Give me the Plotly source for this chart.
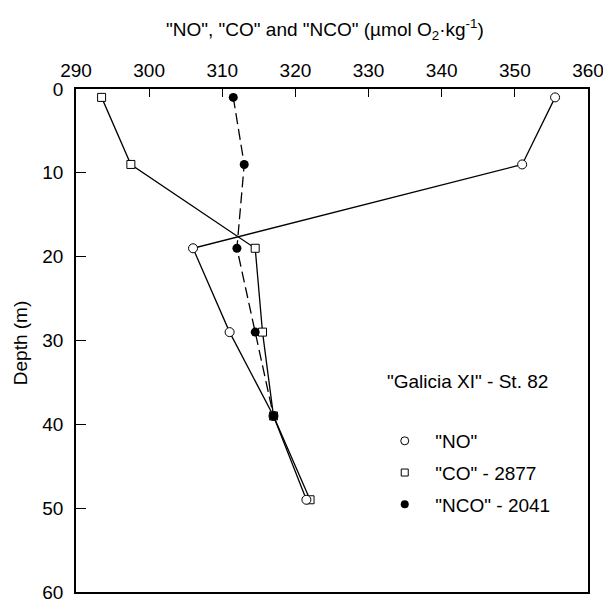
import plotly.graph_objects as go

depth = [1, 9, 19, 29, 39, 49]
no_vals = [355.5, 351.0, 306.0, 311.0, 317.0, 321.5]
co_vals = [293.5, 297.5, 314.5, 315.5, 317.0, 322.0]
nco_depth = [1, 9, 19, 29, 39]
nco_vals = [311.5, 313.0, 312.0, 314.5, 317.0]

x_ticks = [290, 300, 310, 320, 330, 340, 350, 360]
y_ticks = [0, 10, 20, 30, 40, 50, 60]

FONT = "Liberation Sans, Arial, sans-serif"
NB = "\u00a0\u00a0"
fig = go.Figure()

line_style = dict(color="black", width=1.3)
fig.add_trace(go.Scatter(x=co_vals, y=depth, mode="lines+markers", line=line_style,
                         marker=dict(symbol="square", size=8, color="white", line=dict(width=1, color="black")),
                         showlegend=False))
fig.add_trace(go.Scatter(x=no_vals, y=depth, mode="lines+markers", line=line_style,
                         marker=dict(symbol="circle", size=9, color="white", line=dict(width=1, color="black")),
                         showlegend=False))
fig.add_trace(go.Scatter(x=nco_vals, y=nco_depth, mode="lines+markers",
                         line=dict(color="black", width=1.3, dash="11px,5px"),
                         marker=dict(symbol="circle", size=9, color="black"),
                         showlegend=False))

# legend-only entries (markers only)
fig.add_trace(go.Scatter(x=[None], y=[None], mode="markers", name=NB + '"NO"', legendgroup="a",
                         marker=dict(symbol="circle", size=8, color="white", line=dict(width=1, color="black"))))
fig.add_trace(go.Scatter(x=[None], y=[None], mode="markers", name=NB + '"CO" - 2877', legendgroup="b",
                         marker=dict(symbol="square", size=7, color="white", line=dict(width=1, color="black"))))
fig.add_trace(go.Scatter(x=[None], y=[None], mode="markers", name=NB + '"NCO" - 2041', legendgroup="c",
                         marker=dict(symbol="circle", size=8, color="black")))

fig.update_layout(
    width=603, height=602,
    margin=dict(l=76, r=15, t=89, b=10),
    paper_bgcolor="white", plot_bgcolor="white",
    font=dict(family=FONT, size=19, color="black"),
    legend=dict(x=0.603, y=0.338, xanchor="left", yanchor="top",
                bgcolor="rgba(0,0,0,0)", font=dict(size=19), itemwidth=30,
                tracegroupgap=4),
    annotations=[
        dict(text='"Galicia XI" - St. 82', x=0.603, y=0.4175, xref="paper", yref="paper",
             xanchor="left", yanchor="middle", showarrow=False, font=dict(size=19)),
        dict(text='"NO", "CO" and "NCO" (µmol O<sub>2</sub>·kg<sup>-1</sup>)', x=0.486, y=1.119,
             xref="paper", yref="paper", xanchor="center", yanchor="middle", showarrow=False,
             font=dict(size=19)),
        dict(text="Depth (m)", x=-0.109, y=0.495, xref="paper", yref="paper", textangle=-90,
             xanchor="center", yanchor="middle", showarrow=False, font=dict(size=19)),
    ],
)
fig.update_xaxes(side="top", range=[290, 360], tickvals=x_ticks, ticks="inside", ticklen=8,
                 tickwidth=1.3, tickcolor="black", showline=True, linecolor="black", linewidth=1.5,
                 mirror=True, showgrid=False, zeroline=False, ticklabelstandoff=3, automargin=False,
                 ticklabeloverflow="allow")
fig.update_yaxes(range=[60, 0], tickvals=y_ticks, ticks="inside", ticklen=10, tickwidth=1.3,
                 tickcolor="black", showline=True, linecolor="black", linewidth=1.5, mirror=True,
                 showgrid=False, zeroline=False, ticklabelstandoff=7, automargin=False,
                 ticklabeloverflow="allow")

fig.write_html("out.html", config={"displayModeBar": False},
               post_script="document.body.style.margin='0';document.body.style.overflow='hidden';")
